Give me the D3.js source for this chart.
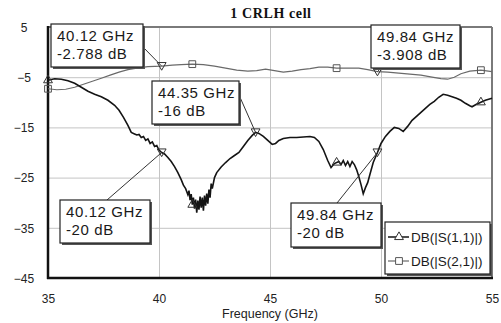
<!DOCTYPE html>
<html><head><meta charset="utf-8">
<script src="https://cdn.jsdelivr.net/npm/d3@7"></script>
<style>
html,body{margin:0;padding:0;background:#fff;}
svg{display:block;}
</style></head>
<body><svg id="c" width="501" height="323"></svg>
<script>
// ---- data ----
const title = "1 CRLH cell";
const xLabel = "Frequency (GHz)";
const xTicks = [35, 40, 45, 50, 55];
const yTicks = [5, -5, -15, -25, -35, -45];
const seriesNames = ["DB(|S(1,1)|)", "DB(|S(2,1)|)"];

const s11Freq = [35.0,35.3,35.6,35.9,36.2,36.5,36.8,37.1,37.4,37.7,38.0,38.2,38.4,38.6,38.75,38.9,39.0,39.1,39.2,39.3,39.4,39.5,39.6,39.7,39.8,39.9,40.0,40.12,40.25,40.4,40.55,40.7,40.85,41.0,41.1,41.2,41.3,41.35,41.4,41.45,41.5,41.55,41.6,41.65,41.7,41.75,41.8,41.85,41.9,41.95,42.0,42.05,42.1,42.15,42.2,42.25,42.3,42.35,42.4,42.5,42.6,42.8,43.0,43.2,43.4,43.6,43.8,44.0,44.2,44.35,44.5,44.7,44.9,45.1,45.25,45.4,45.6,45.9,46.2,46.5,46.8,47.0,47.2,47.4,47.6,47.75,47.9,48.1,48.2,48.3,48.4,48.5,48.6,48.7,48.8,48.9,49.0,49.1,49.2,49.3,49.4,49.5,49.65,49.84,50.0,50.2,50.4,50.6,50.8,51.0,51.2,51.4,51.6,51.8,52.0,52.2,52.4,52.6,52.8,53.0,53.2,53.4,53.6,53.8,54.0,54.1,54.3,54.5,54.7,55.0];
const s11Db = [-5.6,-5.3,-5.4,-5.7,-6.2,-7.0,-7.8,-8.4,-8.9,-9.6,-10.6,-11.6,-13.0,-14.6,-16.0,-16.3,-16.5,-16.4,-17.0,-16.8,-17.6,-17.3,-18.2,-17.9,-18.8,-18.6,-19.5,-20.0,-20.3,-21.0,-21.8,-22.8,-24.0,-25.4,-26.5,-27.2,-28.4,-27.6,-29.5,-28.3,-30.4,-29.0,-31.2,-29.4,-32.0,-29.6,-31.4,-28.8,-31.0,-29.0,-31.6,-28.6,-30.6,-28.2,-30.2,-27.4,-29.0,-26.2,-27.2,-25.0,-24.0,-22.9,-22.0,-21.2,-20.6,-20.0,-18.8,-17.6,-16.6,-16.0,-16.2,-16.8,-17.6,-18.4,-18.2,-17.6,-17.2,-17.0,-17.0,-16.9,-16.8,-17.0,-17.8,-19.4,-21.6,-23.0,-22.2,-21.8,-22.4,-21.6,-22.6,-21.8,-22.8,-21.8,-22.4,-23.4,-24.8,-26.4,-28.2,-27.0,-26.0,-24.4,-22.0,-20.0,-18.2,-16.8,-15.8,-15.0,-15.2,-15.8,-14.8,-13.6,-12.8,-12.0,-11.2,-10.4,-9.8,-9.0,-8.4,-8.6,-8.9,-9.2,-9.6,-10.2,-10.7,-10.9,-10.4,-10.0,-9.6,-9.2];

const s21Freq = [35.0,35.4,35.8,36.2,36.6,37.0,37.4,37.8,38.2,38.6,39.0,39.5,40.12,40.6,41.0,41.5,42.0,42.5,43.0,43.5,44.0,44.4,44.8,45.2,45.6,46.0,46.4,46.8,47.2,47.6,48.0,48.5,49.0,49.4,49.84,50.3,50.8,51.3,51.8,52.3,52.7,53.0,53.3,53.6,54.0,54.5,55.0];
const s21Db = [-7.3,-7.5,-7.4,-7.0,-6.4,-5.8,-5.2,-4.6,-4.0,-3.5,-3.2,-2.9,-2.79,-2.6,-2.5,-2.4,-2.5,-2.8,-3.2,-3.6,-3.8,-3.7,-3.4,-3.7,-4.0,-3.8,-3.5,-3.3,-3.0,-3.0,-3.2,-3.2,-3.2,-3.5,-3.9,-4.0,-4.2,-4.4,-4.6,-5.0,-5.3,-5.4,-5.0,-4.3,-3.8,-3.6,-3.9];

const symbolFreq = [35, 41.5, 48, 54.5];

const annoFreq = [40.12, 44.35, 49.84, 40.12, 49.84];
const annoDb = [-2.788, -16, -3.908, -20, -20];

// ---- layout ----
const SANS = '"Liberation Sans", Arial, sans-serif';
const SERIF = '"Liberation Serif", "Times New Roman", serif';
const W = 501, H = 323;
const L = 48, R = 492, T = 27, B = 278;
const svg = d3.select("#c");
svg.append("rect").attr("width", W).attr("height", H).attr("fill", "#fff");

const x = d3.scaleLinear().domain([35, 55]).range([L, R]);
const y = d3.scaleLinear().domain([-45, 5]).range([B, T]);

// grid
const gx = svg.append("g").attr("transform", `translate(0,${B})`)
  .call(d3.axisBottom(x).tickValues([40, 45, 50]).tickSize(-(B - T)).tickFormat(""));
gx.select(".domain").remove();
gx.selectAll("line").attr("stroke", "#c4c4c4").attr("stroke-width", 1);
const gy = svg.append("g").attr("transform", `translate(${L},0)`)
  .call(d3.axisLeft(y).tickValues([-35, -25, -15, -5]).tickSize(-(R - L)).tickFormat(""));
gy.select(".domain").remove();
gy.selectAll("line").attr("stroke", "#c4c4c4").attr("stroke-width", 1);

// frame
svg.append("line").attr("x1", L).attr("x2", R).attr("y1", T).attr("y2", T).attr("stroke", "#7a7a7a").attr("stroke-width", 2);
svg.append("line").attr("x1", R).attr("x2", R).attr("y1", T).attr("y2", B).attr("stroke", "#7a7a7a").attr("stroke-width", 2);
svg.append("line").attr("x1", L).attr("x2", L).attr("y1", T - 1).attr("y2", B + 1).attr("stroke", "#111").attr("stroke-width", 2.5);
svg.append("line").attr("x1", L - 1).attr("x2", R + 1).attr("y1", B).attr("y2", B).attr("stroke", "#111").attr("stroke-width", 2.5);

// axis labels
const ax = svg.append("g").attr("transform", `translate(0,${B})`)
  .call(d3.axisBottom(x).tickValues(xTicks).tickSize(0).tickPadding(0));
ax.select(".domain").remove();
ax.selectAll("text").attr("y", 25).attr("dy", null)
  .style("font-size", "12px").style("font-family", SANS).attr("fill", "#222");
const ay = svg.append("g").attr("transform", `translate(${L},0)`)
  .call(d3.axisLeft(y).tickValues(yTicks).tickSize(0).tickPadding(0));
ay.select(".domain").remove();
ay.selectAll("text").attr("x", -24).attr("dy", "0.35em").attr("text-anchor", "middle")
  .style("font-size", "12px").style("font-family", SANS).attr("fill", "#222");

svg.append("text").attr("x", (L + R) / 2).attr("y", 318).attr("text-anchor", "middle")
  .style("font-family", SANS).style("font-size", "12.5px").attr("fill", "#222").text(xLabel);
svg.append("text").attr("x", (L + R) / 2 + 1).attr("y", 18).attr("text-anchor", "middle")
  .style("font-family", SERIF).style("font-weight", "bold")
  .style("font-size", "14px").style("letter-spacing", "0.6px").attr("fill", "#111").text(title);

// curves
const s11 = s11Freq.map((f, i) => [f, s11Db[i]]);
const s21 = s21Freq.map((f, i) => [f, s21Db[i]]);
const line = d3.line().x(d => x(d[0])).y(d => y(d[1]));
const plot = svg.append("g");
plot.append("path").datum(s21).attr("d", line).attr("fill", "none").attr("stroke", "#6a6a6a").attr("stroke-width", 1.2);
plot.append("path").datum(s11).attr("d", line).attr("fill", "none").attr("stroke", "#141414").attr("stroke-width", 1.6);

function interp(fs, vs, f) {
  const i = Math.max(1, d3.bisectLeft(fs, f));
  const j = Math.min(i, fs.length - 1);
  const f0 = fs[j - 1], f1 = fs[j];
  const t = f1 === f0 ? 0 : (f - f0) / (f1 - f0);
  return vs[j - 1] + t * (vs[j] - vs[j - 1]);
}
const tri = d3.symbol().type(d3.symbolTriangle).size(34);
const sq = d3.symbol().type(d3.symbolSquare).size(46);
symbolFreq.forEach(f => {
  plot.append("path").attr("d", sq).attr("transform", `translate(${x(f)},${y(interp(s21Freq, s21Db, f))})`)
    .attr("fill", "none").attr("stroke", "#555").attr("stroke-width", 1);
  plot.append("path").attr("d", tri).attr("transform", `translate(${x(f)},${y(interp(s11Freq, s11Db, f))})`)
    .attr("fill", "none").attr("stroke", "#333").attr("stroke-width", 1);
});

// annotations
const annoBox = [[51, 24, 92, 43], [152, 81, 87, 43], [371, 25, 89, 43], [60, 200, 90, 43], [291, 203, 90, 44]];
const annoAnchor = [[143, 47], [239, 95], [381, 68], [107, 200], [337, 203]];
const ag = svg.append("g");
annoFreq.forEach((f, i) => {
  const px = x(f), py = y(annoDb[i]);
  ag.append("line").attr("x1", annoAnchor[i][0]).attr("y1", annoAnchor[i][1]).attr("x2", px).attr("y2", py)
    .attr("stroke", "#333").attr("stroke-width", 1);
  ag.append("path").attr("d", tri).attr("transform", `translate(${px},${py - 1}) rotate(180)`)
    .attr("fill", "none").attr("stroke", "#333").attr("stroke-width", 1);
});
annoFreq.forEach((f, i) => {
  const [bx, by, bw, bh] = annoBox[i];
  ag.append("rect").attr("x", bx + 2).attr("y", by + 2).attr("width", bw).attr("height", bh).attr("fill", "#555");
  ag.append("rect").attr("x", bx).attr("y", by).attr("width", bw).attr("height", bh)
    .attr("fill", "#fff").attr("stroke", "#222").attr("stroke-width", 1.2);
  const t = ag.append("text").style("font-family", SANS).style("font-size", "15px")
    .style("letter-spacing", "0.6px").attr("fill", "#1a1a1a");
  t.append("tspan").attr("x", bx + 6).attr("y", by + 17).text(`${f} GHz`);
  t.append("tspan").attr("x", bx + 6).attr("y", by + 35).text(`${annoDb[i]} dB`);
});

// legend
const lg = svg.append("g");
const lx = 385, ly = 222, lw = 105, lh = 52;
lg.append("rect").attr("x", lx + 2).attr("y", ly + 2).attr("width", lw).attr("height", lh).attr("fill", "#555");
lg.append("rect").attr("x", lx).attr("y", ly).attr("width", lw).attr("height", lh)
  .attr("fill", "#fff").attr("stroke", "#222").attr("stroke-width", 1.2);
seriesNames.forEach((n, i) => {
  const yy = ly + 15 + i * 24;
  lg.append("line").attr("x1", lx + 3).attr("x2", lx + 24).attr("y1", yy).attr("y2", yy)
    .attr("stroke", i === 0 ? "#141414" : "#6a6a6a").attr("stroke-width", i === 0 ? 1.5 : 1.2);
  lg.append("path").attr("d", i === 0 ? tri : sq).attr("transform", `translate(${lx + 14},${yy})`)
    .attr("fill", "#fff").attr("stroke", i === 0 ? "#333" : "#555").attr("stroke-width", 1);
  lg.append("text").attr("x", lx + 26).attr("y", yy + 5).style("font-family", SANS)
    .style("font-size", "13.5px").attr("fill", "#1a1a1a").text(n);
});
</script></body></html>
